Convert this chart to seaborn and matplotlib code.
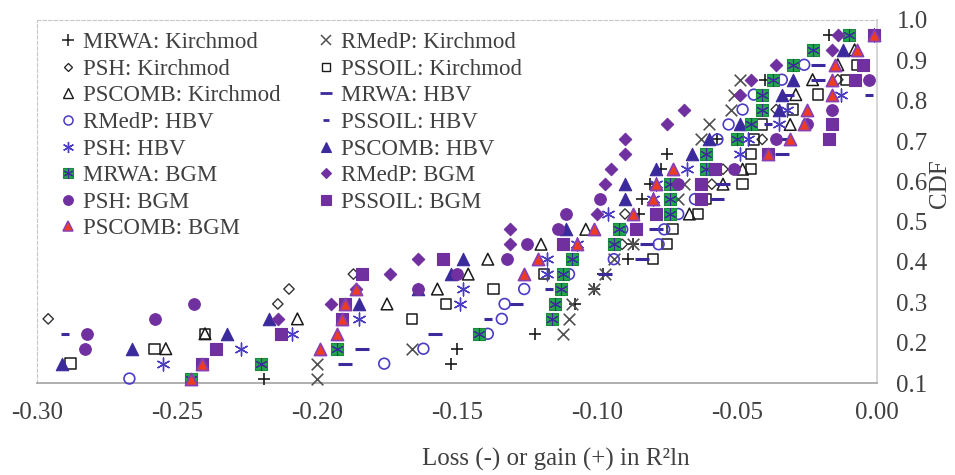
import numpy as np
import pandas as pd
import seaborn as sns
import matplotlib.pyplot as plt
from matplotlib.lines import Line2D

# ---- data: x = loss/gain in R2ln, y = CDF ----
mrwa_k_x = [-0.219, -0.152, -0.150, -0.122, -0.108, -0.101, -0.098, -0.089, -0.087, -0.085, -0.084, -0.081, -0.077, -0.075, -0.057, -0.040, -0.017]
mrwa_k_cdf = [0.111, 0.148, 0.185, 0.222, 0.296, 0.333, 0.370, 0.407, 0.444, 0.519, 0.556, 0.593, 0.630, 0.667, 0.704, 0.852, 0.963]

rmedp_k_x = [-0.200, -0.200, -0.166, -0.112, -0.110, -0.109, -0.101, -0.097, -0.094, -0.087, -0.071, -0.069, -0.063, -0.060, -0.052, -0.051, -0.049]
rmedp_k_cdf = [0.111, 0.148, 0.185, 0.222, 0.259, 0.296, 0.333, 0.370, 0.407, 0.444, 0.556, 0.593, 0.704, 0.741, 0.778, 0.815, 0.852]

psh_k_x = [-0.296, -0.214, -0.210, -0.187, -0.091, -0.090, -0.059, -0.055, -0.041, -0.036, -0.014]
psh_k_cdf = [0.259, 0.296, 0.333, 0.370, 0.444, 0.519, 0.593, 0.630, 0.704, 0.778, 0.852]

pssoil_k_x = [-0.288, -0.258, -0.240, -0.166, -0.154, -0.137, -0.119, -0.080, -0.075, -0.073, -0.064, -0.061, -0.048, -0.045, -0.045, -0.044, -0.041, -0.030, -0.021, -0.011, -0.007]
pssoil_k_cdf = [0.148, 0.185, 0.222, 0.259, 0.296, 0.333, 0.370, 0.407, 0.444, 0.481, 0.519, 0.556, 0.593, 0.630, 0.667, 0.704, 0.741, 0.778, 0.815, 0.852, 0.889]

pscomb_k_x = [-0.254, -0.240, -0.207, -0.175, -0.157, -0.146, -0.139, -0.120, -0.104, -0.067, -0.055, -0.048, -0.031, -0.029, -0.023, -0.014, -0.008]
pscomb_k_cdf = [0.185, 0.222, 0.259, 0.296, 0.333, 0.370, 0.407, 0.444, 0.481, 0.519, 0.593, 0.630, 0.741, 0.815, 0.852, 0.889, 0.926]

mrwa_hbv_x = [-0.190, -0.184, -0.158, -0.129, -0.097, -0.084, -0.082, -0.079, -0.057, -0.055, -0.034, -0.033, -0.032, -0.021, -0.021]
mrwa_hbv_cdf = [0.148, 0.185, 0.222, 0.296, 0.370, 0.407, 0.444, 0.481, 0.556, 0.593, 0.667, 0.704, 0.815, 0.852, 0.889]

rmedp_hbv_x = [-0.267, -0.176, -0.162, -0.139, -0.134, -0.133, -0.126, -0.110, -0.094, -0.078, -0.091, -0.076, -0.071, -0.065, -0.057, -0.053, -0.048, -0.044, -0.034, -0.026]
rmedp_hbv_cdf = [0.111, 0.148, 0.185, 0.222, 0.259, 0.296, 0.333, 0.370, 0.407, 0.444, 0.481, 0.481, 0.519, 0.556, 0.704, 0.741, 0.778, 0.815, 0.852, 0.889]

pssoil_hbv_x = [-0.290, -0.139, -0.117, -0.039, -0.003]
pssoil_hbv_cdf = [0.222, 0.259, 0.333, 0.741, 0.815]

psh_hbv_x = [-0.255, -0.227, -0.209, -0.185, -0.149, -0.148, -0.118, -0.118, -0.107, -0.096, -0.080, -0.079, -0.068, -0.049, -0.046, -0.035, -0.032, -0.013, -0.001]
psh_hbv_cdf = [0.148, 0.185, 0.222, 0.259, 0.296, 0.333, 0.370, 0.407, 0.444, 0.519, 0.556, 0.593, 0.630, 0.667, 0.704, 0.741, 0.778, 0.815, 0.963]

pscomb_hbv_x = [-0.291, -0.266, -0.232, -0.217, -0.185, -0.164, -0.152, -0.148, -0.111, -0.090, -0.090, -0.079, -0.066, -0.060, -0.049, -0.035, -0.034, -0.030, -0.012]
pscomb_hbv_cdf = [0.148, 0.185, 0.222, 0.259, 0.296, 0.333, 0.370, 0.407, 0.481, 0.556, 0.593, 0.630, 0.667, 0.704, 0.741, 0.778, 0.815, 0.852, 0.926]

mrwa_bgm_x = [-0.245, -0.220, -0.193, -0.142, -0.116, -0.115, -0.113, -0.112, -0.109, -0.094, -0.092, -0.074, -0.074, -0.074, -0.061, -0.061, -0.050, -0.045, -0.041, -0.041, -0.037, -0.030, -0.023, -0.010]
mrwa_bgm_cdf = [0.111, 0.148, 0.185, 0.222, 0.259, 0.296, 0.333, 0.370, 0.407, 0.444, 0.481, 0.519, 0.556, 0.593, 0.630, 0.667, 0.704, 0.741, 0.778, 0.815, 0.852, 0.889, 0.926, 0.963]

rmedp_bgm_x = [-0.214, -0.195, -0.186, -0.174, -0.164, -0.131, -0.131, -0.100, -0.097, -0.095, -0.090, -0.090, -0.075, -0.069, -0.049, -0.045, -0.036, -0.016, -0.014]
rmedp_bgm_cdf = [0.259, 0.296, 0.333, 0.370, 0.407, 0.444, 0.481, 0.519, 0.593, 0.630, 0.667, 0.704, 0.741, 0.778, 0.815, 0.852, 0.889, 0.926, 0.963]

psh_bgm_x = [-0.283, -0.282, -0.258, -0.244, -0.164, -0.150, -0.132, -0.125, -0.114, -0.111, -0.099, -0.071, -0.051, -0.036, -0.025, -0.016, -0.003]
psh_bgm_cdf = [0.185, 0.222, 0.259, 0.296, 0.333, 0.370, 0.407, 0.444, 0.481, 0.519, 0.556, 0.593, 0.630, 0.704, 0.741, 0.778, 0.852]

pssoil_bgm_x = [-0.241, -0.236, -0.213, -0.191, -0.190, -0.184, -0.155, -0.112, -0.086, -0.079, -0.063, -0.063, -0.058, -0.039, -0.017, -0.016, -0.008, -0.005, -0.001]
pssoil_bgm_cdf = [0.148, 0.185, 0.222, 0.259, 0.296, 0.370, 0.407, 0.444, 0.481, 0.519, 0.556, 0.593, 0.630, 0.667, 0.704, 0.741, 0.852, 0.889, 0.963]

pscomb_bgm_x = [-0.245, -0.241, -0.199, -0.193, -0.191, -0.190, -0.186, -0.126, -0.121, -0.107, -0.101, -0.087, -0.080, -0.079, -0.073, -0.039, -0.031, -0.026, -0.025, -0.016, -0.016, -0.015, -0.007, -0.001]
pscomb_bgm_cdf = [0.111, 0.148, 0.185, 0.222, 0.259, 0.296, 0.333, 0.370, 0.407, 0.444, 0.481, 0.519, 0.556, 0.593, 0.630, 0.667, 0.704, 0.741, 0.778, 0.815, 0.852, 0.889, 0.926, 0.963]

x_ticks = [-0.30, -0.25, -0.20, -0.15, -0.10, -0.05, 0.00]
x_tick_labels = ["-0.30", "-0.25", "-0.20", "-0.15", "-0.10", "-0.05", "0.00"]
y_ticks = [0.1, 0.2, 0.3, 0.4, 0.5, 0.6, 0.7, 0.8, 0.9, 1.0]
y_tick_labels = ["0.1", "0.2", "0.3", "0.4", "0.5", "0.6", "0.7", "0.8", "0.9", "1.0"]

# ---- style ----
sns.set_theme(style="white")
plt.rcParams["font.family"] = ["Liberation Serif", "DejaVu Serif"]
plt.rcParams["axes.unicode_minus"] = False

BLACK = "#1a1a1a"
GREY = "#505050"
INDIGO = "#3b2a9c"
BLUE = "#4a3cc4"
PURPLE = "#7030a0"
GREEN = "#22a64b"
RED = "#f03c1e"
TXT = "#404040"
ASTER = (6, 2, 0)

fig = plt.figure(figsize=(9.55, 4.75), dpi=100)
ax = fig.add_axes([37 / 955, 92 / 475, 840 / 955, 363 / 475])


def draw(x, y, **kws):
    df = pd.DataFrame({"x": x, "cdf": y})
    sns.scatterplot(data=df, x="x", y="cdf", ax=ax, legend=False, clip_on=False, zorder=3, **kws)


# Kirchmod
draw(mrwa_k_x, mrwa_k_cdf, marker="+", s=85, color=BLACK, linewidth=1.2)
draw(rmedp_k_x, rmedp_k_cdf, marker="x", s=70, color=GREY, linewidth=1.2)
draw(psh_k_x, psh_k_cdf, marker="D", s=28, color=BLACK, facecolor="none", edgecolor="#333333", linewidth=1.0)
draw(pssoil_k_x, pssoil_k_cdf, marker="s", s=55, color=BLACK, facecolor="none", edgecolor=BLACK, linewidth=1.1)
draw(pscomb_k_x, pscomb_k_cdf, marker="^", s=70, color=BLACK, facecolor="none", edgecolor=BLACK, linewidth=1.1)
# HBV
draw(mrwa_hbv_x, mrwa_hbv_cdf, marker="_", s=100, color=INDIGO, linewidth=2.2)
draw(rmedp_hbv_x, rmedp_hbv_cdf, marker="o", s=60, color=BLUE, facecolor="none", edgecolor=BLUE, linewidth=1.2)
draw(pssoil_hbv_x, pssoil_hbv_cdf, marker="_", s=28, color=INDIGO, linewidth=2.2)
draw(psh_hbv_x, psh_hbv_cdf, marker=ASTER, s=85, color=BLUE, linewidth=1.0)
draw(pscomb_hbv_x, pscomb_hbv_cdf, marker="^", s=80, color=INDIGO, edgecolor=INDIGO, linewidth=0.8)
# BGM
draw(mrwa_bgm_x, mrwa_bgm_cdf, marker="s", s=70, color=GREEN, edgecolor="#1c8a3e", linewidth=0.8)
draw(mrwa_bgm_x, mrwa_bgm_cdf, marker=ASTER, s=75, color=INDIGO, linewidth=0.8)
draw(rmedp_bgm_x, rmedp_bgm_cdf, marker="D", s=40, color=PURPLE, edgecolor=PURPLE, linewidth=0.8)
draw(psh_bgm_x, psh_bgm_cdf, marker="o", s=70, color=PURPLE, edgecolor=PURPLE, linewidth=0.8)
draw(pssoil_bgm_x, pssoil_bgm_cdf, marker="s", s=65, color=PURPLE, edgecolor=PURPLE, linewidth=0.8)
draw(pscomb_bgm_x, pscomb_bgm_cdf, marker="^", s=75, color=RED, edgecolor="#8a3fb5", linewidth=1.3)

# axes
ax.set_xlim(-0.30, 0.0)
ax.set_ylim(0.1, 1.0)
ax.set_xticks(x_ticks)
ax.set_xticklabels(x_tick_labels)
ax.yaxis.tick_right()
ax.yaxis.set_label_position("right")
ax.set_yticks(y_ticks)
ax.set_yticklabels(y_tick_labels)
ax.tick_params(axis="both", length=0, labelsize=18, colors=TXT)
ax.tick_params(axis="x", pad=14)
ax.tick_params(axis="y", pad=14)

ax.set_xlabel("Loss (-) or gain (+) in R\u00b2ln", fontsize=18, color=TXT)
ax.xaxis.set_label_coords(0.618, -0.18)
ax.set_ylabel("CDF", fontsize=18, color=TXT)
ax.yaxis.set_label_coords(1.062, 0.55)

ax.spines["bottom"].set_color("#a6a6a6")
ax.spines["right"].set_color("#d0d0d0")
for side in ["top", "left"]:
    ax.spines[side].set_color("#c8c8c8")
    ax.spines[side].set_linestyle((0, (3, 2)))
    ax.spines[side].set_linewidth(0.8)

# legend (row order of the original, placed column-wise)
def h(marker, ms, fc, ec, mew=1.0):
    return Line2D([], [], marker=marker, linestyle="none", markersize=ms,
                  markerfacecolor=fc, markeredgecolor=ec, markeredgewidth=mew)

entries = [
    (h("+", 8, BLACK, BLACK, 1.1), "MRWA: Kirchmod"),
    (h("x", 6.5, GREY, GREY, 1.1), "RMedP: Kirchmod"),
    (h("D", 4.5, "none", BLACK, 0.9), "PSH: Kirchmod"),
    (h("s", 6, "none", BLACK, 1.0), "PSSOIL: Kirchmod"),
    (h("^", 6.5, "none", BLACK, 1.0), "PSCOMB: Kirchmod"),
    (h("_", 8, INDIGO, INDIGO, 2.0), "MRWA: HBV"),
    (h("o", 6.5, "none", BLUE, 1.1), "RMedP: HBV"),
    (h("_", 5, INDIGO, INDIGO, 2.0), "PSSOIL: HBV"),
    (h(ASTER, 8, BLUE, BLUE, 1.0), "PSH: HBV"),
    (h("^", 7, INDIGO, INDIGO, 0.8), "PSCOMB: HBV"),
    ((h("s", 7, GREEN, "#1c8a3e", 0.8), h(ASTER, 7, INDIGO, INDIGO, 0.8)), "MRWA: BGM"),
    (h("D", 5, PURPLE, PURPLE, 0.8), "RMedP: BGM"),
    (h("o", 7, PURPLE, PURPLE, 0.8), "PSH: BGM"),
    (h("s", 7, PURPLE, PURPLE, 0.8), "PSSOIL: BGM"),
    (h("^", 7, RED, "#8a3fb5", 1.1), "PSCOMB: BGM"),
]
order = list(range(0, 15, 2)) + list(range(1, 15, 2))
handles = [entries[i][0] for i in order]
labels = [entries[i][1] for i in order]
ax.legend(handles, labels, ncol=2, loc="upper left", bbox_to_anchor=(0.026, 0.966),
          frameon=False, fontsize=16.5, labelcolor=TXT, handlelength=0.8,
          handletextpad=0.25, labelspacing=0.24, columnspacing=1.6,
          borderpad=0, borderaxespad=0)

fig.savefig("out.png", dpi=100)
